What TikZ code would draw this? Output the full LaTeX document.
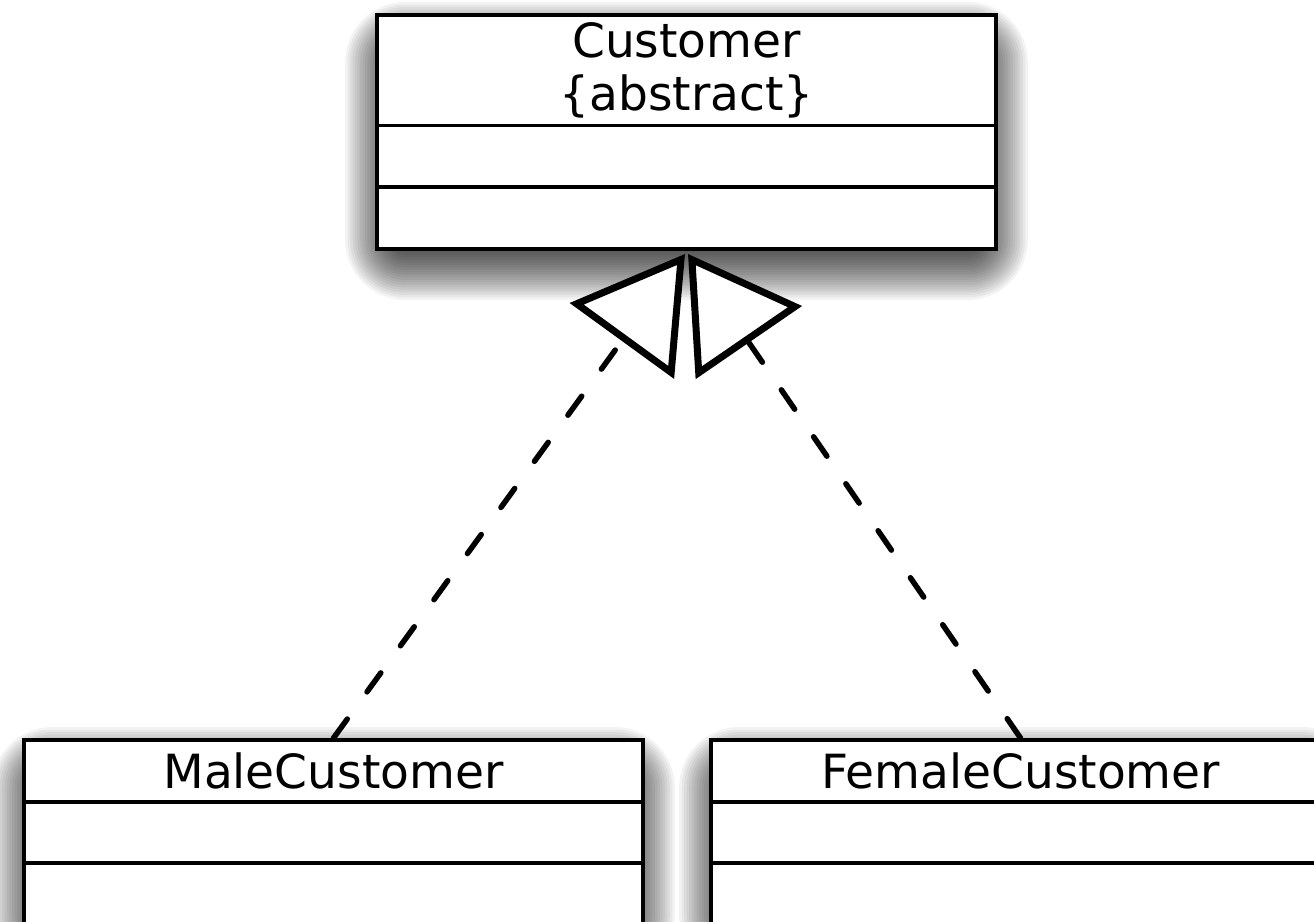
\documentclass[tikz,border=0pt]{standalone}
\usepackage{fontspec}
\setmainfont{DejaVu Sans}
\usetikzlibrary{arrows.meta,shapes.multipart,backgrounds}

% one compartment of a class box: height, then contents
\newcommand{\compartment}[2]{\parbox[c][#1][c]{12.38cm}{\centering #2}}

\begin{document}
\begin{tikzpicture}[x=0.02cm,y=-0.02cm,
    class/.style={rectangle split,rectangle split parts=3,draw,fill=white,line width=0.075cm,inner sep=0pt,
      font=\fontsize{26.8}{30}\selectfont},
    realizes/.style={line width=0.11cm,line cap=round,dash pattern=on 0.47cm off 0.67cm,
      -{Triangle[open,length=2.15cm,width=2.55cm,fill=white,line width=0.14cm,line cap=butt,line join=miter]}}]
  \useasboundingbox (0,0) rectangle (1314,921);
  \clip (0,0) rectangle (1314,921);

  \node[class,anchor=north] (customer) at (686.5,13)
    {\compartment{2.14cm}{Customer\\\{abstract\}}
     \nodepart{two}\compartment{1.16cm}{}
     \nodepart{three}\compartment{1.16cm}{}};
  \node[class,anchor=north] (male) at (333.5,738)
    {\compartment{1.16cm}{MaleCustomer}
     \nodepart{two}\compartment{1.16cm}{}
     \nodepart{three}\compartment{1.16cm}{}};
  \node[class,anchor=north] (female) at (1020.5,738)
    {\compartment{1.16cm}{FemaleCustomer}
     \nodepart{two}\compartment{1.16cm}{}
     \nodepart{three}\compartment{1.16cm}{}};

  \draw[realizes] (male.north) -- ([xshift=-0.03cm,yshift=-0.06cm]customer.south);
  \draw[realizes] (female.north) -- ([xshift=0.03cm,yshift=-0.06cm]customer.south);

  % soft shadows under the class boxes
  \begin{scope}[on background layer]
    \fill[white] (0,0) rectangle (1314,921);
    \foreach \n in {customer,male,female}
      \foreach \r in {1,...,24}{
        \pgfmathsetmacro\grow{\r*0.05}
        \fill[black,opacity=0.049,rounded corners=\grow cm]
          ([xshift=0.6cm-\grow cm,yshift=-0.38cm+0.6cm-\grow cm]\n.south west) rectangle
          ([xshift=-0.6cm+\grow cm,yshift=-0.38cm-0.6cm+\grow cm]\n.north east);
      }
  \end{scope}
\end{tikzpicture}
\end{document}
